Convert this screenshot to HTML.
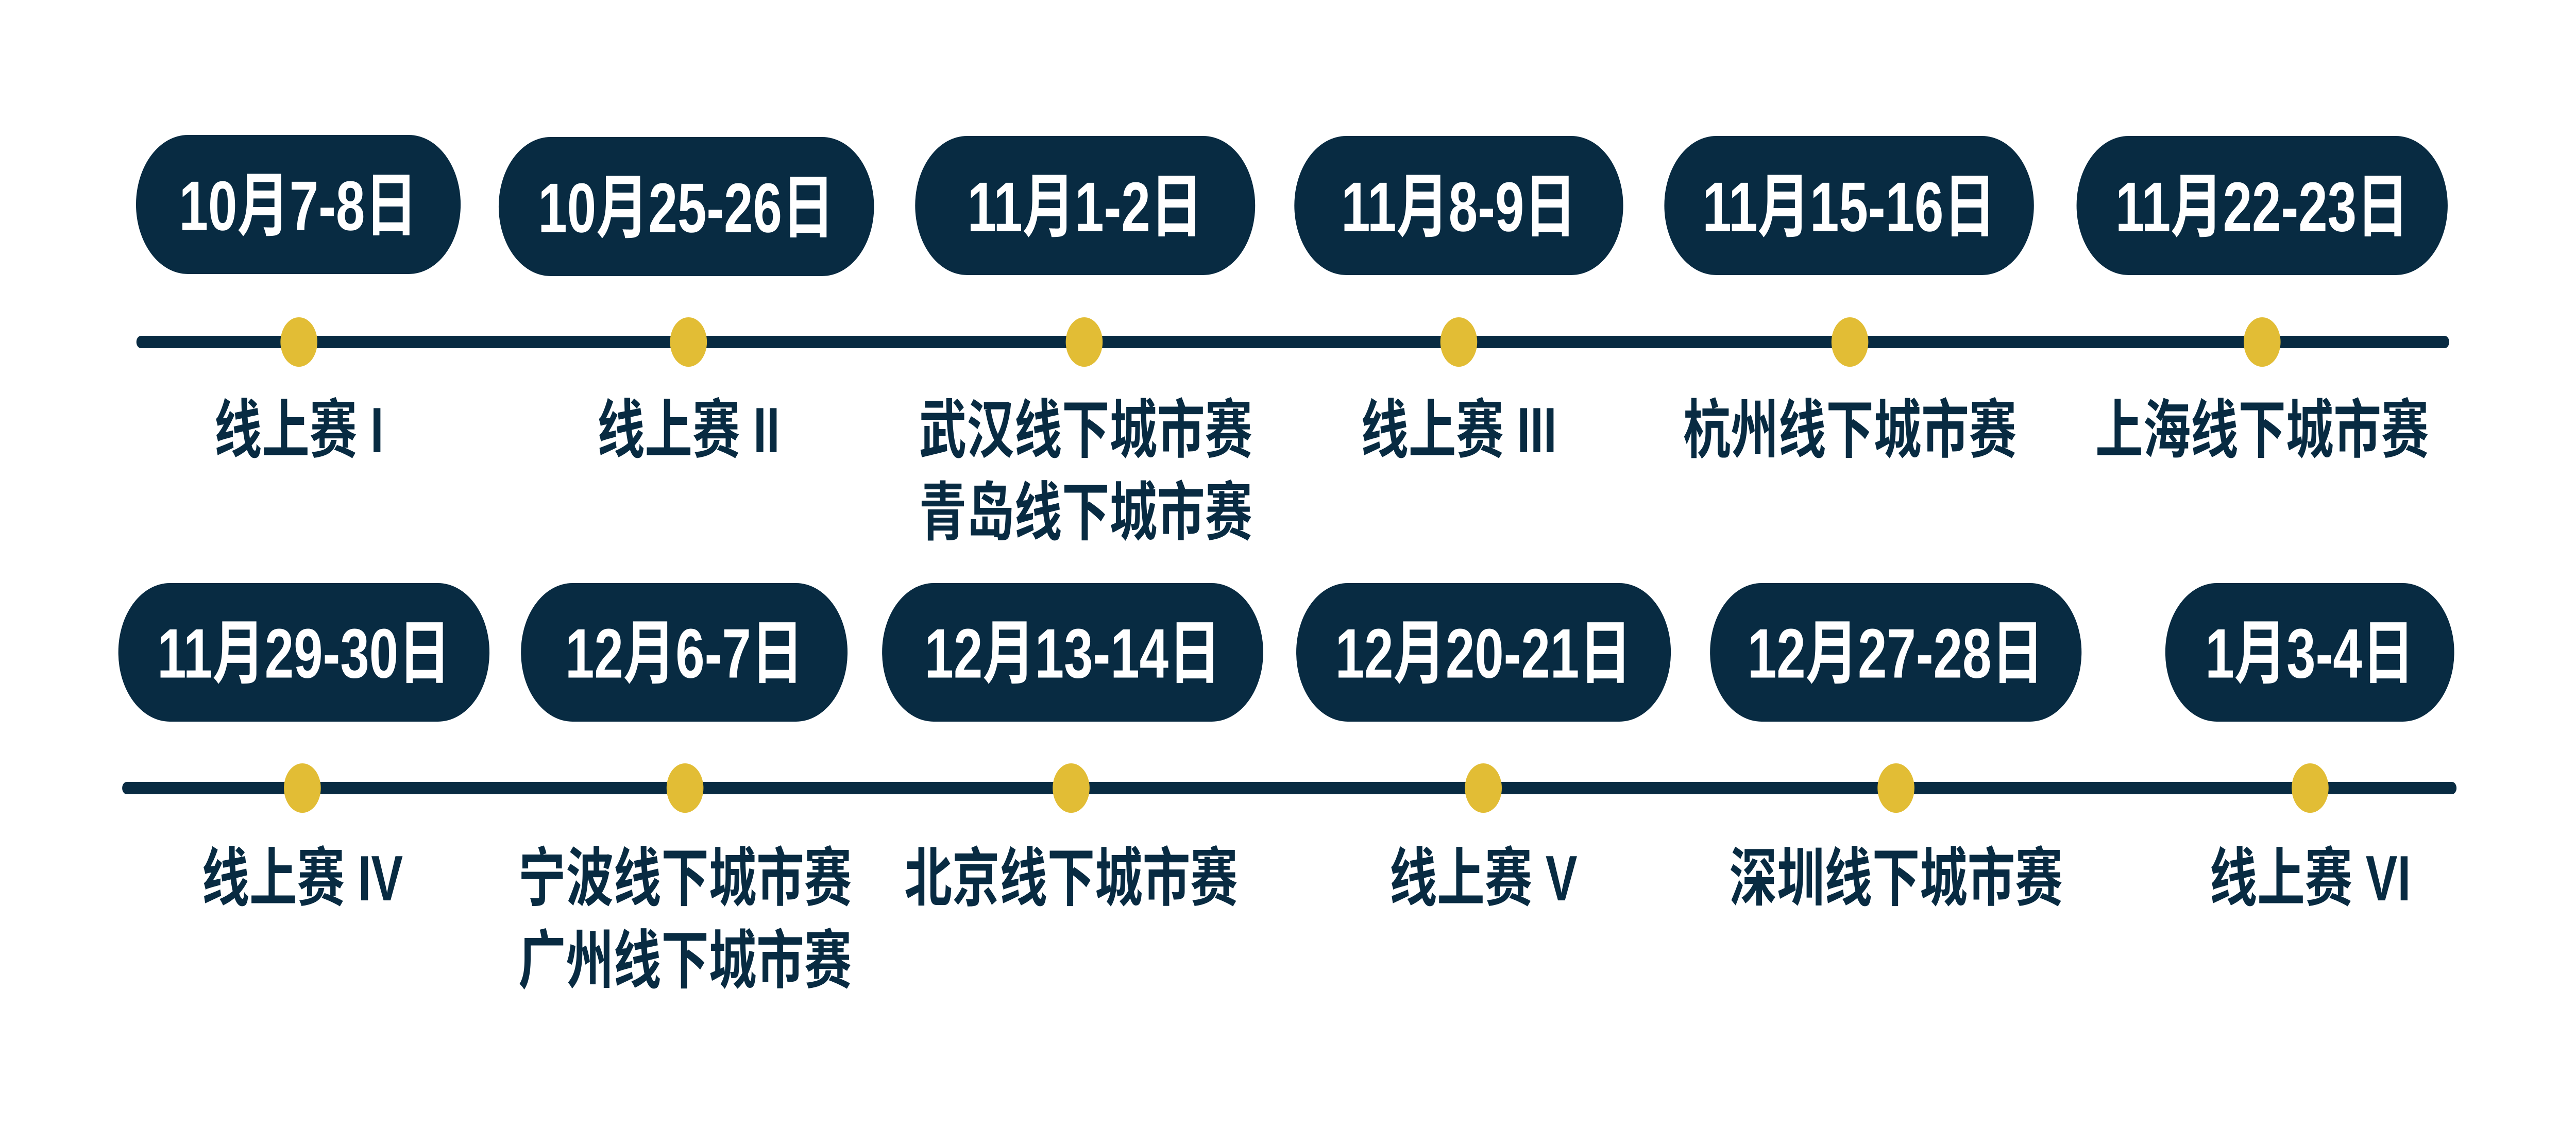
<!DOCTYPE html>
<html><head><meta charset="utf-8"><style>
html,body{margin:0;padding:0;background:#fff;width:100%;height:100%;overflow:hidden;}
svg{display:block;width:100vw;height:100vh;}
text{font-family:"Liberation Sans","Noto Sans CJK SC",sans-serif;font-weight:bold;text-anchor:middle;dominant-baseline:central;}
.w{fill:#fff;font-size:136px;}
.b{fill:#082b42;font-size:124px;}
</style></head><body>
<svg viewBox="0 0 6705 2188" preserveAspectRatio="none" xmlns="http://www.w3.org/2000/svg">
<rect width="6705" height="2188" fill="#fff"/>
<g fill="#082b42">
<rect x="355" y="652" width="6020" height="24" rx="12"/>
<rect x="318" y="1518" width="6076" height="24" rx="12"/>
<rect x="354" y="262" width="845" height="270" rx="135"/>
<rect x="1298" y="266" width="977" height="270" rx="135"/>
<rect x="2382" y="264" width="885" height="270" rx="135"/>
<rect x="3369" y="264" width="856" height="270" rx="135"/>
<rect x="4332" y="264" width="962" height="270" rx="135"/>
<rect x="5405" y="264" width="966" height="270" rx="135"/>
<rect x="308" y="1132" width="966" height="269" rx="134"/>
<rect x="1356" y="1132" width="850" height="269" rx="134"/>
<rect x="2296" y="1132" width="992" height="269" rx="134"/>
<rect x="3374" y="1132" width="975" height="269" rx="134"/>
<rect x="4451" y="1132" width="967" height="269" rx="134"/>
<rect x="5636" y="1132" width="752" height="269" rx="134"/>
</g>
<g fill="#e2bd35">
<circle cx="778" cy="664" r="48"/>
<circle cx="1792" cy="664" r="48"/>
<circle cx="2822" cy="664" r="48"/>
<circle cx="3797" cy="664" r="48"/>
<circle cx="4815" cy="664" r="48"/>
<circle cx="5888" cy="664" r="48"/>
<circle cx="787" cy="1530" r="48"/>
<circle cx="1783" cy="1530" r="48"/>
<circle cx="2788" cy="1530" r="48"/>
<circle cx="3861" cy="1530" r="48"/>
<circle cx="4935" cy="1530" r="48"/>
<circle cx="6013" cy="1530" r="48"/>
</g>
<text class="w" x="776" y="400">10月7-8日</text>
<text class="w" x="1786" y="404">10月25-26日</text>
<text class="w" x="2824" y="402">11月1-2日</text>
<text class="w" x="3797" y="402">11月8-9日</text>
<text class="w" x="4813" y="402">11月15-16日</text>
<text class="w" x="5888" y="402">11月22-23日</text>
<text class="w" x="791" y="1269">11月29-30日</text>
<text class="w" x="1781" y="1269">12月6-7日</text>
<text class="w" x="2792" y="1269">12月13-14日</text>
<text class="w" x="3861" y="1269">12月20-21日</text>
<text class="w" x="4934" y="1269">12月27-28日</text>
<text class="w" x="6012" y="1269">1月3-4日</text>

<text class="b" x="778" y="836">线上赛 I</text>
<text class="b" x="1792" y="836">线上赛 II</text>
<text class="b" x="2826" y="836">武汉线下城市赛</text>
<text class="b" x="2826" y="996">青岛线下城市赛</text>
<text class="b" x="3797" y="836">线上赛 III</text>
<text class="b" x="4815" y="836">杭州线下城市赛</text>
<text class="b" x="5888" y="836">上海线下城市赛</text>
<text class="b" x="787" y="1706">线上赛 IV</text>
<text class="b" x="1783" y="1706">宁波线下城市赛</text>
<text class="b" x="1783" y="1866">广州线下城市赛</text>
<text class="b" x="2788" y="1706">北京线下城市赛</text>
<text class="b" x="3861" y="1706">线上赛 V</text>
<text class="b" x="4935" y="1706">深圳线下城市赛</text>
<text class="b" x="6013" y="1706">线上赛 VI</text>
</svg>
</body></html>
